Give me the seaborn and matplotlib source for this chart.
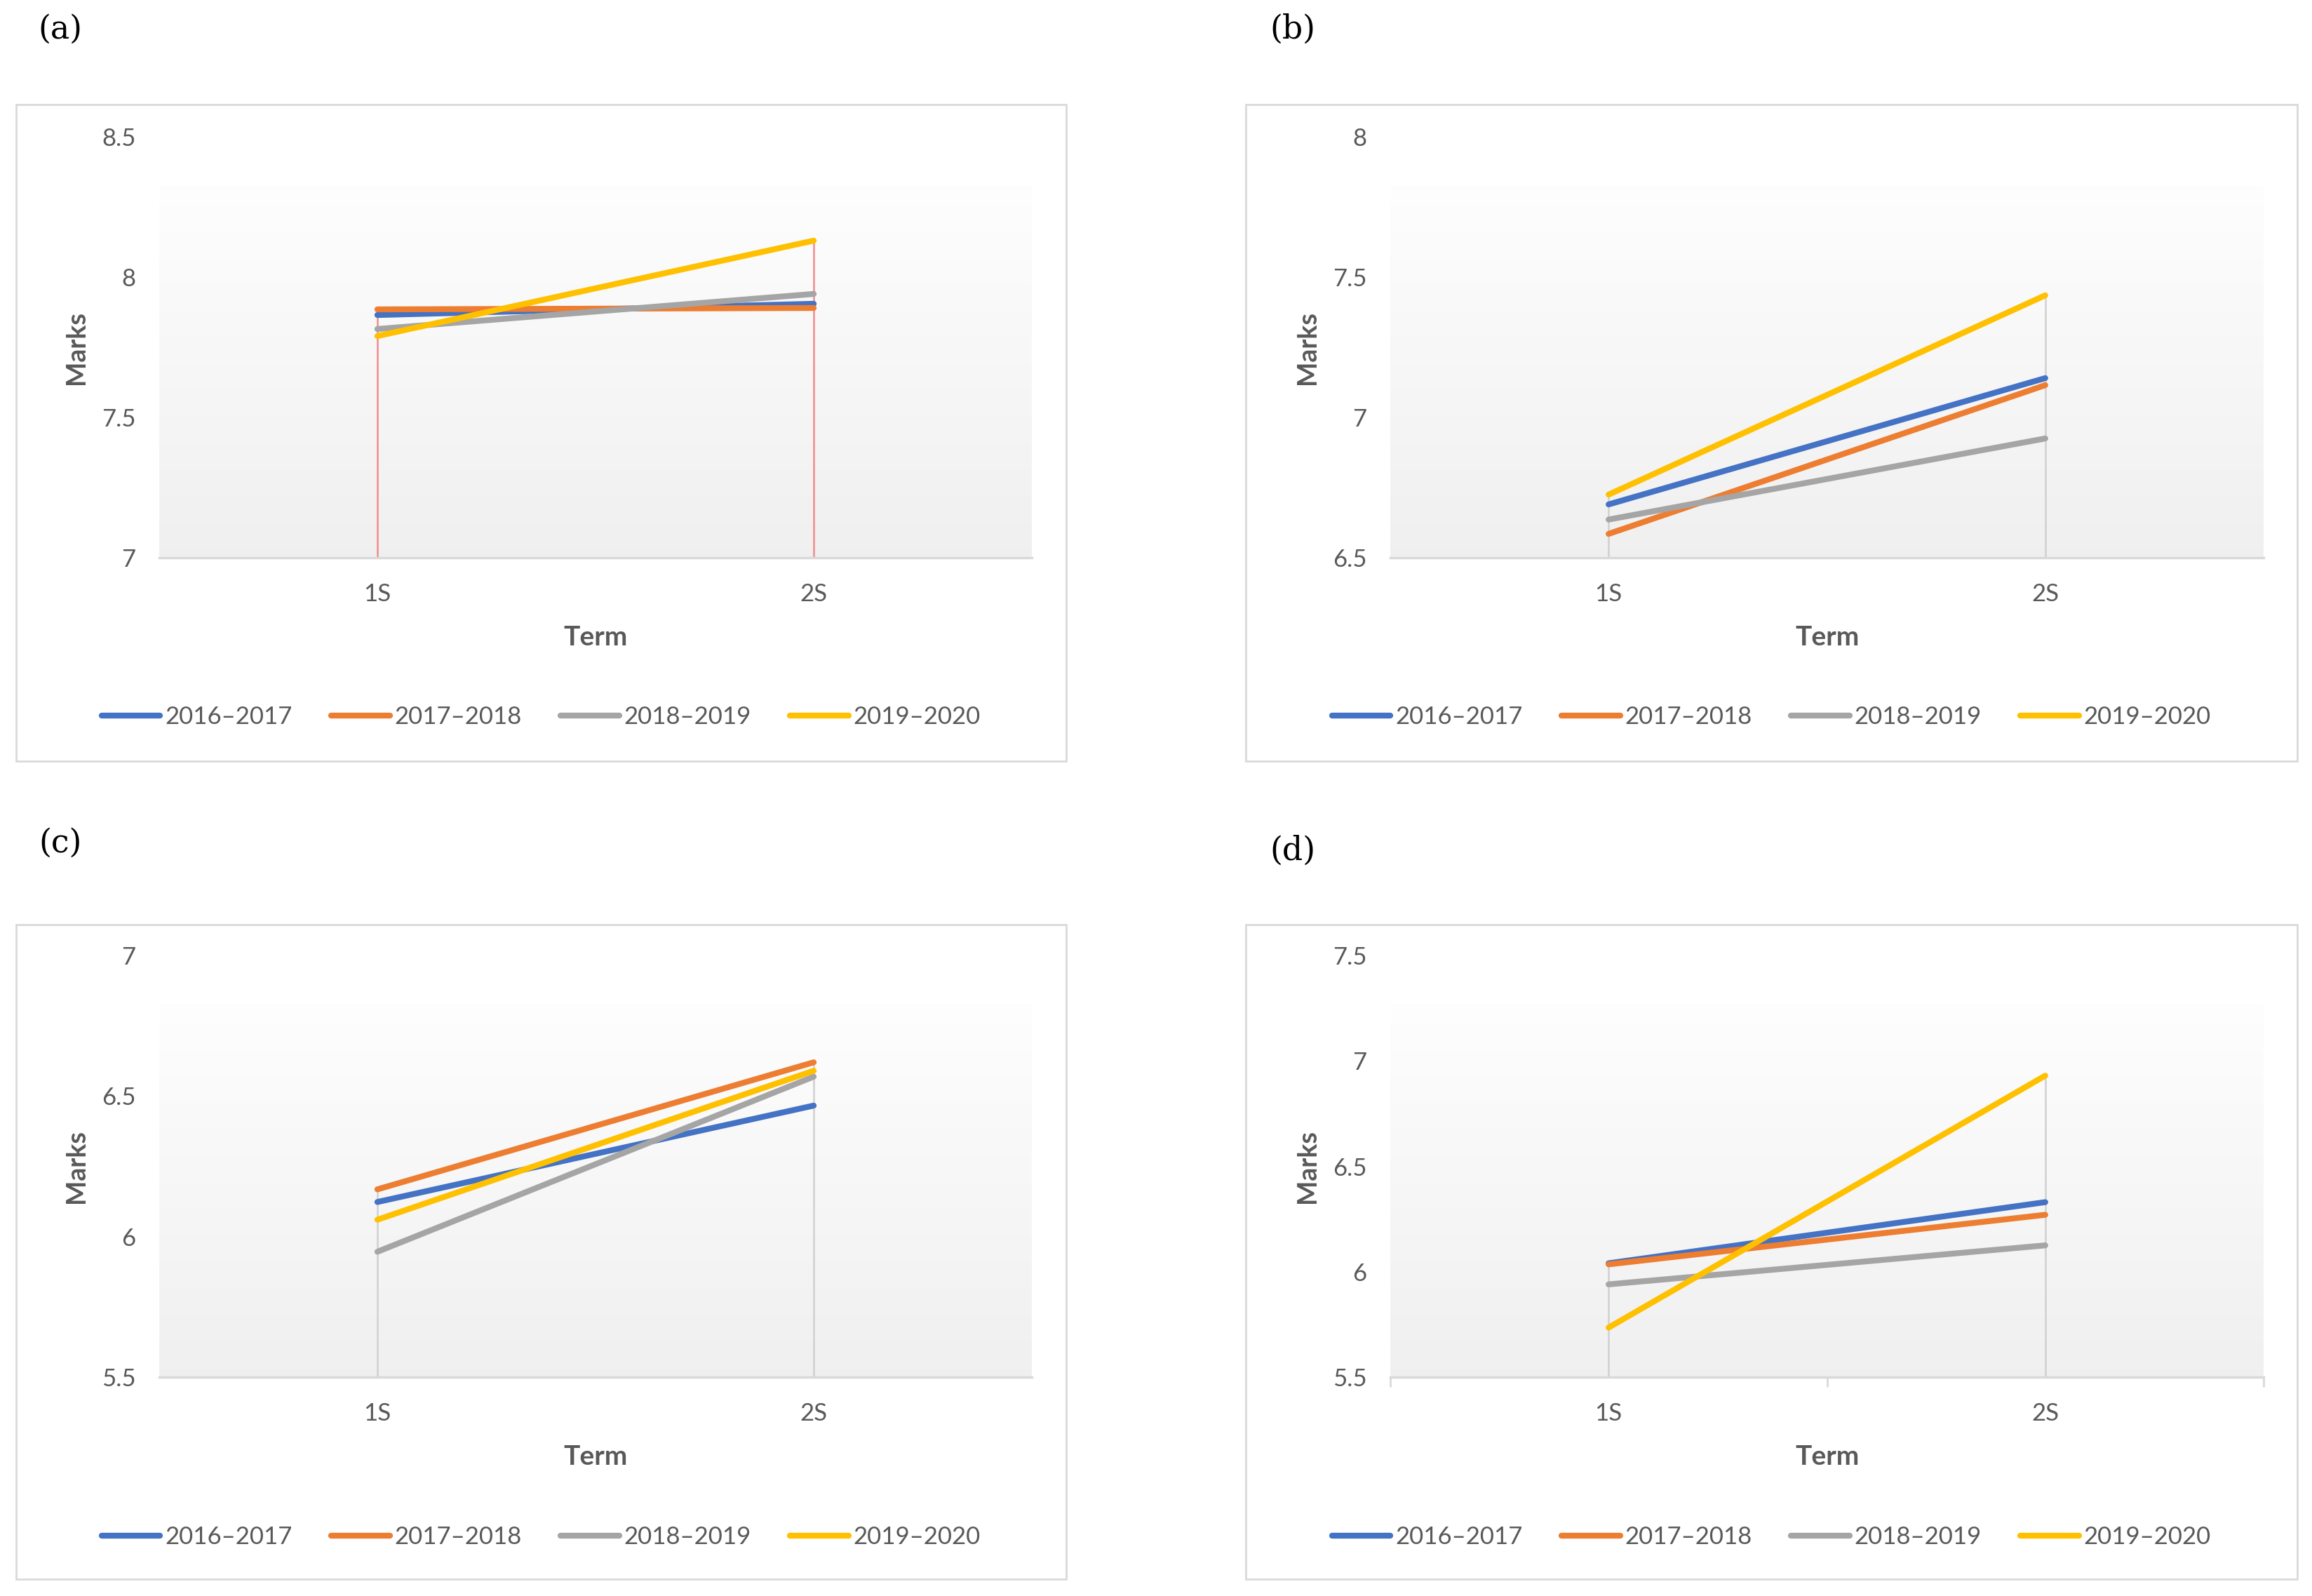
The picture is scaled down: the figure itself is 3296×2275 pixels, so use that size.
import numpy as np
import pandas as pd
import matplotlib.pyplot as plt
import seaborn as sns
from matplotlib.patches import Rectangle
from matplotlib.lines import Line2D

# data
terms = ["1S", "2S"]
years = ["2016–2017", "2017–2018", "2018–2019", "2019–2020"]
colors = ["#4472C4", "#ED7D31", "#A5A5A5", "#FFC000"]

marks_a = [[7.865, 7.905], [7.885, 7.89], [7.815, 7.94], [7.79, 8.13]]
marks_b = [[6.69, 7.14], [6.585, 7.115], [6.636, 6.925], [6.725, 7.435]]
marks_c = [[6.123, 6.466], [6.168, 6.62], [5.946, 6.569], [6.06, 6.59]]
marks_d = [[6.04, 6.33], [6.035, 6.27], [5.94, 6.125], [5.735, 6.93]]

ylims = [(7, 8.5), (6.5, 8), (5.5, 7), (5.5, 7.5)]
labels = ["(a)", "(b)", "(c)", "(d)"]

sns.set_style("white")
plt.rcParams['font.family'] = ['Lato', 'DejaVu Sans']

W, H = 3296, 2275
fig = plt.figure(figsize=(W / 100, H / 100), dpi=100)


def fig_rect(x0, y0, x1, y1):
    return [x0 / W, 1 - y1 / H, (x1 - x0) / W, (y1 - y0) / H]


# pixel geometry: outer box, plot area, panel label position
layout = [
    dict(box=(23, 149, 1520, 1085), plot=(227, 195, 1471, 795), lab=(86, 42), drop="#F28B8B", ticks=False),
    dict(box=(1776, 149, 3275, 1085), plot=(1982, 195, 3227, 795), lab=(1843, 42), drop="#D0D0D0", ticks=False),
    dict(box=(23, 1318, 1520, 2251), plot=(227, 1362, 1471, 1963), lab=(86, 1202), drop="#D0D0D0", ticks=False),
    dict(box=(1776, 1318, 3275, 2251), plot=(1982, 1362, 3227, 1963), lab=(1843, 1213), drop="#D0D0D0", ticks=True),
]

grad = np.linspace(0.995, 0.94, 256).reshape(-1, 1, 1) * np.ones((1, 1, 3))

for marks, (ymin, ymax), lab, lay in zip([marks_a, marks_b, marks_c, marks_d], ylims, labels, layout):
    x0, y0, x1, y1 = lay["box"]
    fig.patches.append(Rectangle((x0 / W, 1 - y1 / H), (x1 - x0) / W, (y1 - y0) / H,
                                 transform=fig.transFigure, fill=False, ec="#D9D9D9", lw=2))
    fig.text(lay["lab"][0] / W, 1 - lay["lab"][1] / H, lab, family="DejaVu Serif",
             fontsize=33, ha="center", va="center", color="black")

    ax = fig.add_axes(fig_rect(*lay["plot"]))
    df = pd.DataFrame({
        "Term": terms * len(years),
        "Marks": np.ravel(marks),
        "Year": np.repeat(years, len(terms)),
    })

    # plot-area gradient (white at top to light grey at bottom)
    gtop = ymax - 0.115 * (ymax - ymin)
    ax.imshow(grad, extent=[-0.5, 1.5, ymin, gtop], aspect="auto", zorder=0)

    sns.lineplot(data=df, x="Term", y="Marks", hue="Year", palette=colors,
                 sort=False, lw=6, legend=False, ax=ax, zorder=3)

    # drop lines from the highest series down to the axis
    tops = np.max(marks, axis=0)
    ax.vlines(range(len(terms)), ymin, tops, color=lay["drop"], lw=1.8, zorder=2)

    ax.set_xlim(-0.5, 1.5)
    ax.set_ylim(ymin, ymax)
    ax.set_yticks(np.arange(ymin, ymax + 0.01, 0.5))
    ax.set_yticklabels(["{:g}".format(v) for v in np.arange(ymin, ymax + 0.01, 0.5)])
    for s in ["top", "right", "left"]:
        ax.spines[s].set_visible(False)
    ax.spines["bottom"].set_color("#D9D9D9")
    ax.spines["bottom"].set_linewidth(2.5)
    ax.tick_params(axis="y", length=0, pad=24, labelsize=25, labelcolor="#595959")
    ax.tick_params(axis="x", length=0, pad=26, labelsize=25, labelcolor="#595959")
    if lay["ticks"]:
        ax.set_xticks([-0.5, 0.5, 1.5], minor=True)
        ax.tick_params(axis="x", which="minor", bottom=True, length=10, width=2,
                       color="#D9D9D9", direction="out")
    ax.set_xlabel("Term", fontsize=28, fontweight="bold", color="#595959", labelpad=20)
    ax.set_ylabel("Marks", fontsize=27, fontweight="bold", color="#595959", labelpad=14)

    handles = [Line2D([], [], color=c, lw=6) for c in colors]
    cx = (x0 + x1) / 2
    ax.legend(handles, years, loc="center", bbox_to_anchor=(cx / W, 1 - (y0 + 873) / H),
              bbox_transform=fig.transFigure, ncol=4, frameon=False, fontsize=25,
              labelcolor="#595959", handlelength=2.4, handletextpad=0.2, columnspacing=1.6)

fig.savefig("out.png", dpi=100, facecolor="white")
